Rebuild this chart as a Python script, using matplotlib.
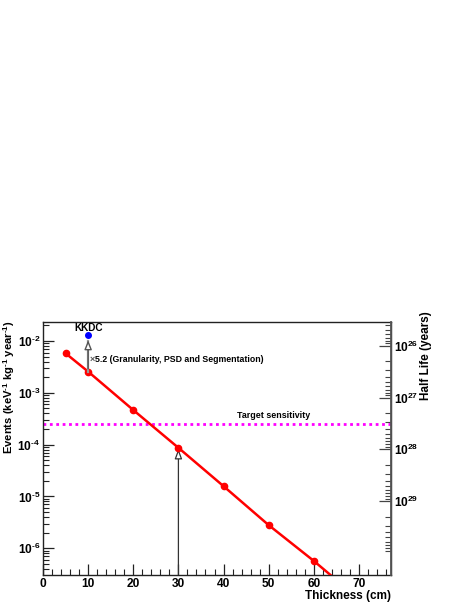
import numpy as np
import matplotlib
matplotlib.use("Agg")
import matplotlib.pyplot as plt
from matplotlib.ticker import FixedLocator, NullFormatter, LogLocator, MultipleLocator

plt.rcParams['font.family'] = ['Liberation Sans', 'DejaVu Sans']
plt.rcParams['mathtext.fontset'] = 'custom'
plt.rcParams['mathtext.rm'] = 'Liberation Sans:bold'
plt.rcParams['mathtext.it'] = 'Liberation Sans:bold'
plt.rcParams['mathtext.bf'] = 'Liberation Sans:bold'

# Data
thickness = [5, 10, 20, 30, 40, 50, 60, 70]
events = [5.8e-3, 2.57e-3, 4.66e-4, 8.7e-5, 1.58e-5, 2.8e-6, 5.7e-7, 1.05e-7]
kkdc_x = 10
kkdc_factor = 5.2
target = 2.5e-4
arrow_x = 30
hl_const = 8.1e23  # half life = hl_const / events
left_exps = [-6, -5, -4, -3, -2]
right_exps = [26, 27, 28, 29]

xlim = (0, 77.1)
ylim = (3.05e-7, 2.33e-2)

fig = plt.figure(figsize=(4.69, 6.07), dpi=100)
ax = fig.add_axes([43/469, 32/607, 348/469, 253/607])

ax.set_yscale('log')
ax.set_xlim(*xlim)
ax.set_ylim(*ylim)

# target sensitivity
ax.axhline(target, color='#ff00ff', lw=2.0, ls=(0, (1, 1.3)), zorder=2)
ax.text(43, target * 1.45, 'Target sensitivity', fontsize=6.4, fontweight='bold',
        ha='left', va='center')

# red curve
ax.plot(thickness, events, color='#ff0000', lw=1.8, marker='o', ms=4.5,
        zorder=3, clip_on=True)

# KKDC
kkdc_val = events[thickness.index(kkdc_x)] * kkdc_factor
ax.plot([kkdc_x], [kkdc_val], 'o', color='#0000ff', ms=4, zorder=5)
ax.annotate('', xy=(kkdc_x, kkdc_val * 0.88), xytext=(kkdc_x, events[thickness.index(kkdc_x)]),
            arrowprops=dict(arrowstyle='-|>,head_length=0.55,head_width=0.22',
                            fc='white', ec='#555555', lw=1.0), zorder=4)
ax.plot([kkdc_x, kkdc_x], [events[1], kkdc_val * 0.75], color='#999999', lw=1.6, zorder=3.5)
ax.text(kkdc_x, kkdc_val * 1.33, 'KKDC', fontsize=7.2, fontweight='bold',
        ha='center', va='center')
ax.text(kkdc_x + 0.3, 4.4e-3, r'$\times$', fontsize=6.5, color='#555555',
        ha='left', va='center')
ax.text(kkdc_x + 1.5, 4.4e-3, f'{kkdc_factor} (Granularity, PSD and Segmentation)',
        fontsize=6.3, fontweight='bold', ha='left', va='center')

# arrow at 30 cm
arrow_val = events[thickness.index(arrow_x)]
ax.annotate('', xy=(arrow_x, arrow_val * 0.96), xytext=(arrow_x, ylim[0]),
            arrowprops=dict(arrowstyle='-|>,head_length=0.6,head_width=0.22',
                            fc='white', ec='#333333', lw=0.9, shrinkA=0, shrinkB=0),
            zorder=2.5)

# axes styling
for s in ['left', 'bottom', 'top', 'right']:
    ax.spines[s].set_linewidth(1.0)
    ax.spines[s].set_color('#222222')
ax.xaxis.set_major_locator(MultipleLocator(10))
ax.xaxis.set_minor_locator(MultipleLocator(2))
ax.yaxis.set_major_locator(LogLocator(base=10, numticks=20))
ax.yaxis.set_minor_locator(LogLocator(base=10, subs=np.arange(2, 10), numticks=20))
ax.yaxis.set_minor_formatter(NullFormatter())
ax.tick_params(which='both', direction='in', top=False, right=False, color='#222222')
ax.tick_params(which='major', length=8, width=0.9, labelsize=8.6, pad=2)
ax.tick_params(which='minor', length=4, width=0.8)
ax.set_yticks([10.0**e for e in left_exps])
ax.set_yticklabels([r'$10^{\text{-%d}}$' % (-e) for e in left_exps])
ax.set_xticks([0, 10, 20, 30, 40, 50, 60, 70])
ax.set_xticklabels(['0', '10', '20', '30', '40', '50', '60', '70'], fontweight='bold')

# secondary axis (half life)
ax2 = ax.twinx()
ax2.set_yscale('log')
ax2.set_ylim(hl_const / ylim[0], hl_const / ylim[1])
ax2.yaxis.set_major_locator(FixedLocator([10.0**e for e in right_exps]))
minors = [m * 10.0**e for e in range(25, 30) for m in range(2, 10)
          if 3.6e25 <= m * 10.0**e <= 9.5e29]
ax2.yaxis.set_minor_locator(FixedLocator(minors))
ax2.yaxis.set_minor_formatter(NullFormatter())
ax2.set_yticklabels([r'$10^{%d}$' % e for e in right_exps])
ax2.tick_params(which='both', direction='in', color='#444444')
ax2.tick_params(which='major', length=9, width=0.9, labelsize=8.6, pad=2)
ax2.tick_params(which='minor', length=4.5, width=0.8)
for s in ['left', 'bottom', 'top', 'right']:
    ax2.spines[s].set_visible(False)
ax2.spines['right'].set_visible(True)
ax2.spines['right'].set_color('#555555')
ax2.spines['right'].set_linewidth(1.3)

# axis titles
fig.text(9.5/469, 1 - 320/607, r'Events (keV$^{\text{-1}}$ kg$^{\text{-1}}$ year$^{\text{-1}}$)',
         rotation=90, ha='center', va='top', fontsize=8.1, fontweight='bold')
fig.text(426/469, 1 - 311/607, 'Half Life (years)', rotation=90,
         ha='center', va='top', fontsize=8.5, fontweight='bold')
fig.text(391/469, 1 - 596/607, 'Thickness (cm)', ha='right', va='center',
         fontsize=8.5, fontweight='bold')

fig.savefig('out.png', dpi=100)
